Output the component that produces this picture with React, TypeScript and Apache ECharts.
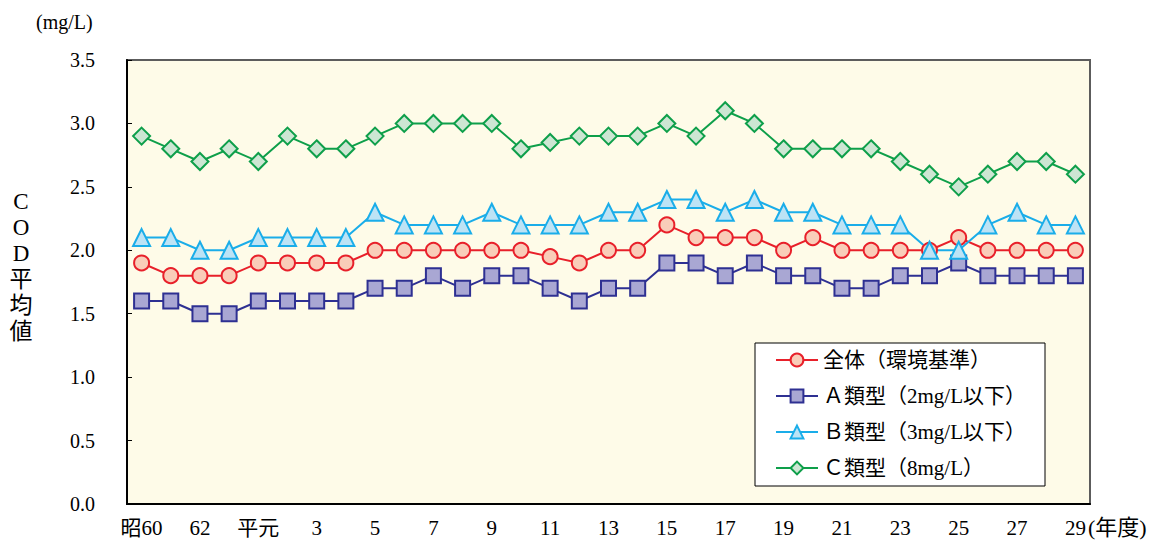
import React, { useEffect, useRef } from "react";
import * as echarts from "echarts";

const years = [
  "昭60", "61", "62", "63", "平元", "2", "3", "4", "5", "6", "7", "8", "9", "10", "11", "12",
  "13", "14", "15", "16", "17", "18", "19", "20", "21", "22", "23", "24", "25", "26", "27", "28", "29",
];

const overall = [
  1.9, 1.8, 1.8, 1.8, 1.9, 1.9, 1.9, 1.9, 2.0, 2.0, 2.0, 2.0, 2.0, 2.0, 1.95, 1.9,
  2.0, 2.0, 2.2, 2.1, 2.1, 2.1, 2.0, 2.1, 2.0, 2.0, 2.0, 2.0, 2.1, 2.0, 2.0, 2.0, 2.0,
];
const typeA = [
  1.6, 1.6, 1.5, 1.5, 1.6, 1.6, 1.6, 1.6, 1.7, 1.7, 1.8, 1.7, 1.8, 1.8, 1.7, 1.6,
  1.7, 1.7, 1.9, 1.9, 1.8, 1.9, 1.8, 1.8, 1.7, 1.7, 1.8, 1.8, 1.9, 1.8, 1.8, 1.8, 1.8,
];
const typeB = [
  2.1, 2.1, 2.0, 2.0, 2.1, 2.1, 2.1, 2.1, 2.3, 2.2, 2.2, 2.2, 2.3, 2.2, 2.2, 2.2,
  2.3, 2.3, 2.4, 2.4, 2.3, 2.4, 2.3, 2.3, 2.2, 2.2, 2.2, 2.0, 2.0, 2.2, 2.3, 2.2, 2.2,
];
const typeC = [
  2.9, 2.8, 2.7, 2.8, 2.7, 2.9, 2.8, 2.8, 2.9, 3.0, 3.0, 3.0, 3.0, 2.8, 2.85, 2.9,
  2.9, 2.9, 3.0, 2.9, 3.1, 3.0, 2.8, 2.8, 2.8, 2.8, 2.7, 2.6, 2.5, 2.6, 2.7, 2.7, 2.6,
];

const seriesNames = [
  "全体（環境基準）",
  "Ａ類型（2mg/L以下）",
  "Ｂ類型（3mg/L以下）",
  "Ｃ類型（8mg/L）",
];

const FONT = "'Liberation Serif', 'Noto Sans CJK JP', serif";

export default function App() {
  const ref = useRef<HTMLDivElement>(null);
  useEffect(() => {
    if (!ref.current) return;
    const chart = echarts.init(ref.current, null, { renderer: "svg" });
    const mk = (
      name: string,
      data: number[],
      symbol: string,
      size: number,
      line: string,
      fill: string
    ) => ({
      name,
      type: "line",
      data,
      symbol,
      symbolSize: size,
      showAllSymbol: true,
      lineStyle: { color: line, width: 2 },
      itemStyle: { color: fill, borderColor: line, borderWidth: 2 },
    });
    chart.setOption({
      animation: false,
      textStyle: { fontFamily: FONT },
      grid: {
        left: 127,
        right: 72,
        top: 60,
        bottom: 41,
        show: true,
        backgroundColor: "#FEFBE8",
        borderColor: "#5c5c5c",
        borderWidth: 2,
      },
      xAxis: {
        type: "category",
        data: years,
        boundaryGap: true,
        axisLine: { lineStyle: { color: "#000", width: 2 } },
        axisTick: { inside: true, length: 5, interval: 0, lineStyle: { color: "#000" } },
        axisLabel: {
          interval: 1,
          margin: 13,
          color: "#000",
          fontSize: 21,
          fontFamily: FONT,
        },
        splitLine: { show: false },
      },
      yAxis: {
        type: "value",
        min: 0,
        max: 3.5,
        interval: 0.5,
        axisLine: { show: true, lineStyle: { color: "#000", width: 2 } },
        axisTick: { show: true, inside: true, length: 5, lineStyle: { color: "#000" } },
        axisLabel: {
          margin: 32,
          color: "#000",
          fontSize: 20,
          fontFamily: FONT,
          formatter: (v: number) => v.toFixed(1),
        },
        splitLine: { show: false },
      },
      legend: {
        orient: "vertical",
        left: 757,
        top: 343,
        padding: [6, 10, 6, 18],
        itemGap: 14,
        itemWidth: 42,
        itemHeight: 16,
        textStyle: { fontSize: 21, lineHeight: 22, color: "#000", fontFamily: FONT },
        data: seriesNames,
      },
      graphic: [
        {
          type: "rect",
          shape: { x: 755, y: 343, width: 290, height: 143 },
          style: { fill: "#fff", stroke: "#000", lineWidth: 1 },
          z: 1,
        },
        {
          type: "text",
          left: 36,
          top: 12,
          style: { text: "(mg/L)", fontSize: 20, fill: "#000", fontFamily: FONT },
        },
        {
          type: "text",
          left: 1088,
          top: 516,
          style: { text: "(年度)", fontSize: 22, fill: "#000", fontFamily: FONT },
        },
        {
          type: "text",
          x: 21,
          y: 188,
          style: {
            text: "C\nO\nD\n平\n均\n値",
            fontSize: 23,
            lineHeight: 26,
            align: "center",
            verticalAlign: "top",
            fill: "#000",
            fontFamily: FONT,
          },
        },
      ],
      series: [
        mk(seriesNames[0], overall, "circle", 15, "#E8202A", "#F9CDB9"),
        mk(seriesNames[1], typeA, "rect", 15, "#2E3092", "#A9A7D3"),
        mk(seriesNames[2], typeB, "triangle", 17, "#1AADE9", "#BDE3F5"),
        mk(seriesNames[3], typeC, "diamond", 17, "#0E9F4A", "#CDE6D3"),
      ],
    });
    return () => chart.dispose();
  }, []);
  return (
    <div
      ref={ref}
      style={{ position: "absolute", left: 0, top: 0, width: 1162, height: 545 }}
    />
  );
}
